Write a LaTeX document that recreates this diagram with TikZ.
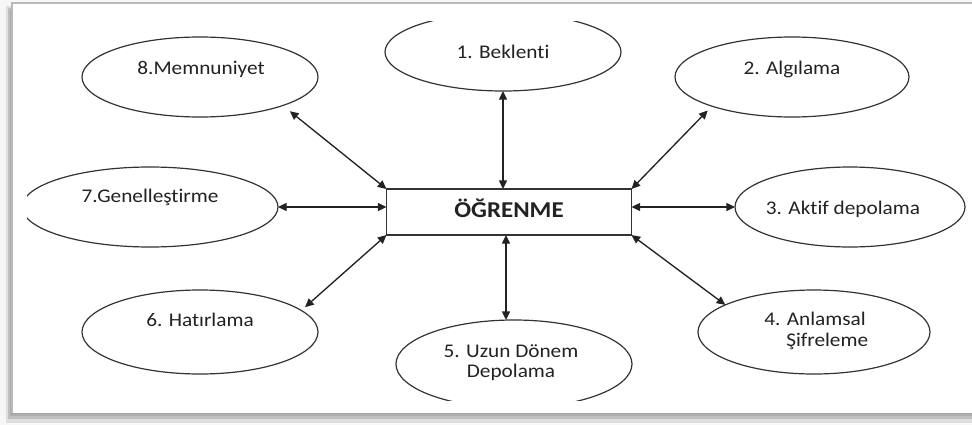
\documentclass[tikz,border=0pt]{standalone}
\usepackage{fontspec}
\setmainfont{Carlito}[FakeStretch=1.1, Ligatures=NoCommon]
\usetikzlibrary{shapes.geometric,arrows.meta}
\definecolor{ink}{HTML}{222222}
\definecolor{edge}{HTML}{333333}
\tikzset{
  ell/.style={ellipse, draw=edge, line width=0.9pt, inner sep=0pt, outer sep=0pt},
  lbl/.style={anchor=base, text=ink, inner sep=0pt, font=\fontsize{14.5}{15}\selectfont},
  mainbox/.style={rectangle, draw=edge, line width=0.9pt, inner sep=0pt, outer sep=0pt,
    minimum width=183.75pt, minimum height=34.5pt},
  arr/.style={draw=ink, line width=1pt, {Triangle[length=6.5pt,width=6pt]}-{Triangle[length=6.5pt,width=6pt]}}
}
\begin{document}
\begin{tikzpicture}[x=0.75pt,y=-0.75pt]
\useasboundingbox (0,0) rectangle (972,425);
% page frame with shadow
\fill[gray!6] (0,0) rectangle (972,425);
\fill[gray!25] (6,6) rectangle (972,423);
\fill[gray!50] (8,8) rectangle (972,419);
\fill[gray!65] (10,10) rectangle (972,416);
\fill[white] (12,3) rectangle (972,413);
\draw[gray!55, line width=1pt] (12,413) -- (12,3) -- (972,3);
\draw[gray!70, line width=1pt] (12,413.5) -- (972,413.5);
% ellipses (clipped like the original)
\begin{scope}
\clip (27,21) rectangle (966,400);
\node[ell, minimum width=177pt, minimum height=60pt] (m8) at (200,77) {};
\node[ell, minimum width=177pt, minimum height=58.5pt] (m1) at (503,52) {};
\node[ell, minimum width=175.5pt, minimum height=60pt] (m2) at (792,77) {};
\node[ell, minimum width=192pt, minimum height=60pt] (m7) at (150,207) {};
\node[ell, minimum width=172.5pt, minimum height=60pt] (m3) at (850,207) {};
\node[ell, minimum width=177pt, minimum height=63pt] (m6) at (200,332) {};
\node[ell, minimum width=177pt, minimum height=66pt] (m5) at (514,364) {};
\node[ell, minimum width=174pt, minimum height=63pt] (m4) at (814,332) {};
\end{scope}
% labels
\node[lbl] (t8) at (201,74) {8.Memnuniyet};
\node[lbl] (t1) at (503,58) {1. Beklenti};
\node[lbl] (t2) at (792,74) {2. Algılama};
\node[lbl] (t7) at (150,202) {7.Genelleştirme};
\node[lbl] (t3) at (843,214) {3. Aktif depolama};
\node[lbl] (t6) at (200,326) {6. Hatırlama};
\node[lbl, align=center] (t5) at (511,377) {5. Uzun Dönem\\Depolama};
\node[lbl, anchor=base west, align=left, font=\fontsize{14.5}{15.75}\selectfont] (t4) at (764,346) {4. Anlamsal\\\hspace*{16.5pt}Şifreleme};
% central box
\node[mainbox] (box) at (509,212) {};
\node[anchor=base, inner sep=0pt, text=ink, font=\fontsize{17}{18}\selectfont\bfseries] (tb) at (509,217) {ÖĞRENME};
% connectors
\draw[arr] (m1.south) -- (m1.south |- box.north);
\draw[arr, shorten >=4.5pt] (box.north east) -- (m2.200);
\draw[arr] (box.east |- m3.west) -- (m3.west);
\draw[arr] (box.south east) -- (m4.163.5);
\draw[arr] ([xshift=-6pt]m5.north |- box.south) -- ([xshift=-6pt]m5.north);
\draw[arr, shorten >=3.75pt] (box.south west) -- (m6.12.9);
\draw[arr] (m7.east -| box.west) -- (m7.east);
\draw[arr, shorten >=6.8pt] (box.north west) -- (m8.-19);
\end{tikzpicture}
\end{document}
